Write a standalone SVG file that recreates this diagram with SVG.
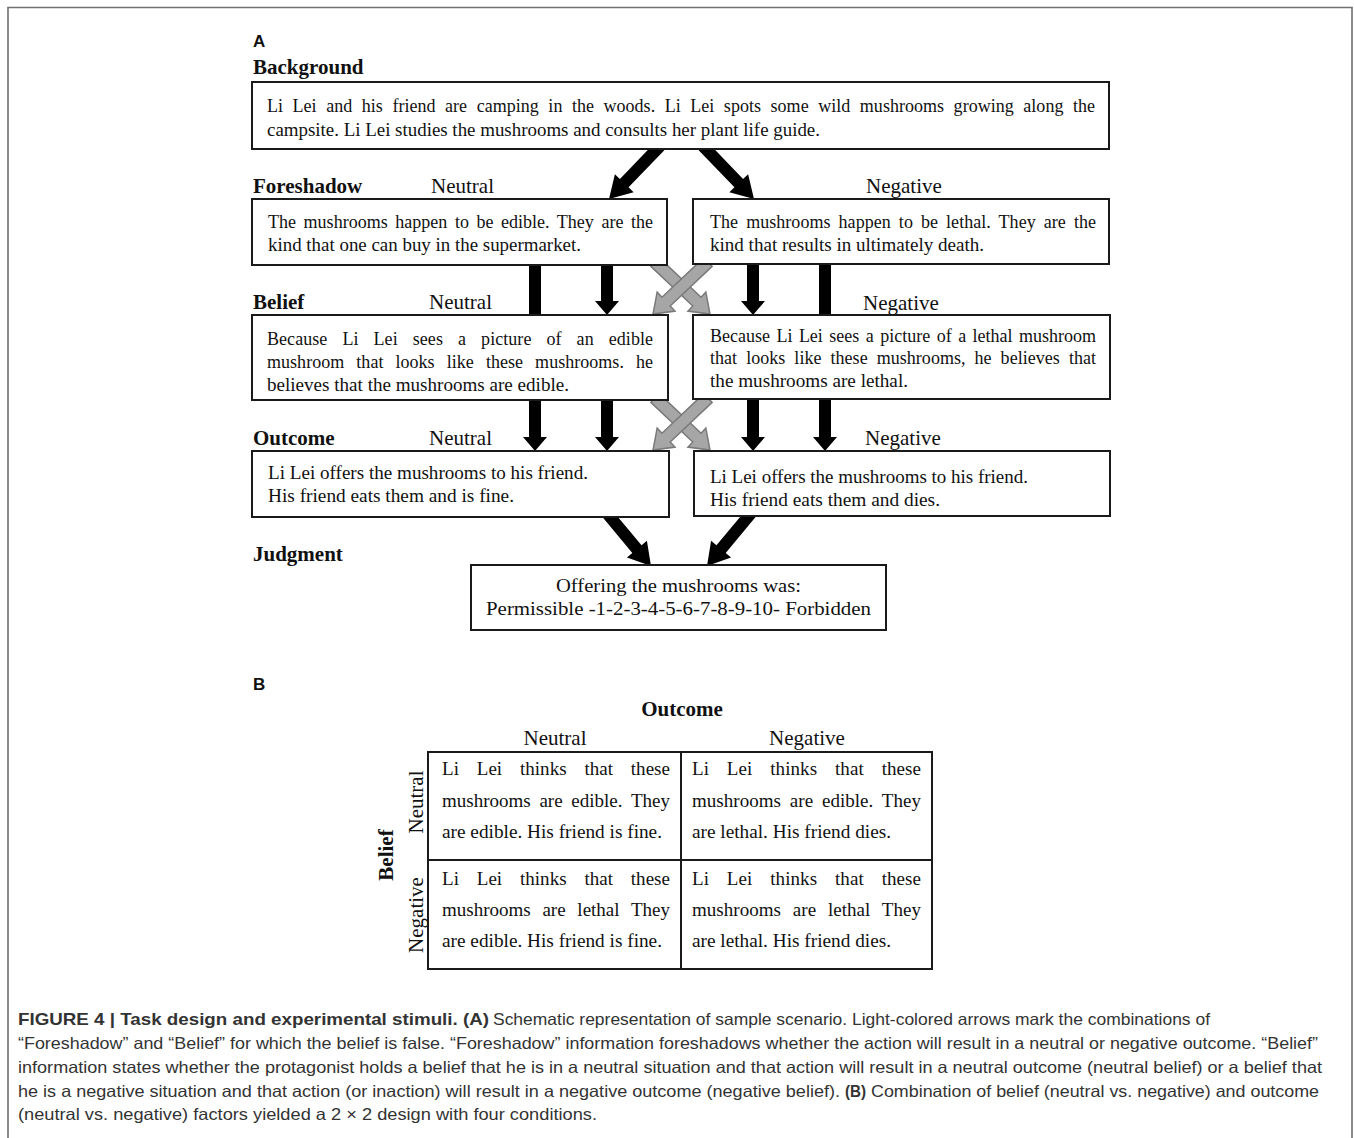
<svg xmlns="http://www.w3.org/2000/svg" width="1354" height="1138" viewBox="0 0 1354 1138">
<style>
.box{fill:#fff;stroke:#1a1a1a;stroke-width:2}
.t{font-family:"Liberation Serif","Times New Roman",serif;font-size:18px;fill:#111}
.h{font-family:"Liberation Serif","Times New Roman",serif;font-size:21px;font-weight:bold;fill:#111}
.lab{font-family:"Liberation Serif","Times New Roman",serif;font-size:21px;fill:#111}
.tb{font-family:"Liberation Serif","Times New Roman",serif;font-size:19px;fill:#111}
.pl{font-family:"Liberation Sans",Arial,sans-serif;font-size:17px;font-weight:bold;fill:#111}
.arr{fill:#000}
.garr{fill:#a6a6a6;stroke:#7a7a7a;stroke-width:1.5}
.cap{font-family:"Liberation Sans",Arial,sans-serif;font-size:16.5px;fill:#333}
.b{font-weight:bold}
</style>
<rect width="1354" height="1138" fill="#fff"/>
<path d="M8,1138 V7.5 H1352 V1138" fill="none" stroke="#707070" stroke-width="1.6"/>

<g id="panel-labels">
<text class="pl" x="253" y="47">A</text>
<text class="pl" x="253" y="690">B</text>
<text class="h" x="253" y="74">Background</text>
<text class="h" x="253" y="193">Foreshadow</text>
<text class="lab" x="431" y="193">Neutral</text>
<text class="lab" x="866" y="193">Negative</text>
<text class="h" x="253" y="309">Belief</text>
<text class="lab" x="429" y="309">Neutral</text>
<text class="lab" x="863" y="310">Negative</text>
<text class="h" x="253" y="445">Outcome</text>
<text class="lab" x="429" y="445">Neutral</text>
<text class="lab" x="865" y="445">Negative</text>
<text class="h" x="253" y="561">Judgment</text>
</g>

<g id="connectors">
<polygon class="arr" points="655.68,141.84 619.93,178.99 614.88,174.14 609,199 633.62,192.16 628.57,187.31 664.32,150.16"/>
<polygon class="arr" points="707.32,141.84 743.07,178.99 748.12,174.14 754,199 729.38,192.16 734.43,187.31 698.68,150.16"/>
<rect class="arr" x="529" y="262" width="12" height="54"/>
<polygon class="arr" points="601,262 601,301 595,301 607,315 619,301 613,301 613,262"/>
<polygon class="arr" points="747,262 747,301 741,301 753,315 765,301 759,301 759,262"/>
<rect class="arr" x="819" y="262" width="12" height="54"/>
<polygon class="garr" points="650.88,266.36 692.8,306 687.99,311.09 710,314 705.85,292.19 701.04,297.28 659.12,257.64"/>
<polygon class="garr" points="712.12,266.36 670.2,306 675.01,311.09 653,314 657.15,292.19 661.96,297.28 703.88,257.64"/>
<polygon class="arr" points="529,397 529,437 523,437 535,451 547,437 541,437 541,397"/>
<polygon class="arr" points="601,397 601,437 595,437 607,451 619,437 613,437 613,397"/>
<polygon class="arr" points="747,397 747,437 741,437 753,451 765,437 759,437 759,397"/>
<polygon class="arr" points="819,397 819,437 813,437 825,451 837,437 831,437 831,397"/>
<polygon class="garr" points="650.88,402.36 692.8,442 687.99,447.09 710,450 705.85,428.19 701.04,433.28 659.12,393.64"/>
<polygon class="garr" points="712.12,402.36 670.2,442 675.01,447.09 653,450 657.15,428.19 661.96,433.28 703.88,393.64"/>
<polygon class="arr" points="601.39,515.84 632.31,552.94 626.94,557.42 651,566 646.9,540.78 641.53,545.26 610.61,508.16"/>
<polygon class="arr" points="756.61,515.84 725.69,552.94 731.06,557.42 707,566 711.1,540.78 716.47,545.26 747.39,508.16"/>
</g>

<g id="background">
<rect class="box" x="252" y="82" width="857" height="67"/>
<text class="t" x="267" y="112" word-spacing="5" textLength="828" lengthAdjust="spacing">Li Lei and his friend are camping in the woods. Li Lei spots some wild mushrooms growing along the</text>
<text class="t" x="267" y="136" textLength="553" lengthAdjust="spacingAndGlyphs">campsite. Li Lei studies the mushrooms and consults her plant life guide.</text>
</g>

<g id="foreshadow-neutral">
<rect class="box" x="252" y="199" width="415" height="66"/>
<text class="t" x="268" y="228" word-spacing="3" textLength="385" lengthAdjust="spacing">The mushrooms happen to be edible. They are the</text>
<text class="t" x="268" y="251" textLength="313" lengthAdjust="spacingAndGlyphs">kind that one can buy in the supermarket.</text>
</g>

<g id="foreshadow-negative">
<rect class="box" x="693" y="199" width="416" height="65"/>
<text class="t" x="710" y="228" word-spacing="3.5" textLength="386" lengthAdjust="spacing">The mushrooms happen to be lethal. They are the</text>
<text class="t" x="710" y="251" textLength="274" lengthAdjust="spacingAndGlyphs">kind that results in ultimately death.</text>
</g>

<g id="belief-neutral">
<rect class="box" x="252" y="315" width="416" height="85"/>
<text class="t" x="267" y="345" word-spacing="10.5" textLength="386" lengthAdjust="spacing">Because Li Lei sees a picture of an edible</text>
<text class="t" x="267" y="368" word-spacing="7.5" textLength="386" lengthAdjust="spacing">mushroom that looks like these mushrooms. he</text>
<text class="t" x="267" y="391" textLength="302" lengthAdjust="spacingAndGlyphs">believes that the mushrooms are edible.</text>
</g>

<g id="belief-negative">
<rect class="box" x="693" y="315" width="417" height="84"/>
<text class="t" x="710" y="342" word-spacing="2" textLength="386" lengthAdjust="spacing">Because Li Lei sees a picture of a lethal mushroom</text>
<text class="t" x="710" y="364" word-spacing="4.5" textLength="386" lengthAdjust="spacing">that looks like these mushrooms, he believes that</text>
<text class="t" x="710" y="387" textLength="198" lengthAdjust="spacingAndGlyphs">the mushrooms are lethal.</text>
</g>

<g id="outcome-neutral">
<rect class="box" x="252" y="451" width="417" height="66"/>
<text class="t" x="268" y="479" textLength="320" lengthAdjust="spacingAndGlyphs">Li Lei offers the mushrooms to his friend.</text>
<text class="t" x="268" y="502" textLength="246" lengthAdjust="spacingAndGlyphs">His friend eats them and is fine.</text>
</g>

<g id="outcome-negative">
<rect class="box" x="694" y="451" width="416" height="65"/>
<text class="t" x="710" y="483" textLength="318" lengthAdjust="spacingAndGlyphs">Li Lei offers the mushrooms to his friend.</text>
<text class="t" x="710" y="506" textLength="230" lengthAdjust="spacingAndGlyphs">His friend eats them and dies.</text>
</g>

<g id="judgment">
<rect class="box" x="471" y="565" width="415" height="65"/>
<text class="t" x="556" y="592" textLength="245" lengthAdjust="spacingAndGlyphs">Offering the mushrooms was:</text>
<text class="t" x="486" y="615" textLength="385" lengthAdjust="spacingAndGlyphs">Permissible -1-2-3-4-5-6-7-8-9-10- Forbidden</text>
</g>

<g id="design-table">
<text class="h" x="682" y="716" text-anchor="middle">Outcome</text>
<text class="lab" x="555" y="745" text-anchor="middle">Neutral</text>
<text class="lab" x="807" y="745" text-anchor="middle">Negative</text>
<text class="h" transform="translate(393,855) rotate(-90)" text-anchor="middle">Belief</text>
<text class="lab" transform="translate(423,802) rotate(-90)" text-anchor="middle">Neutral</text>
<text class="lab" transform="translate(423,915) rotate(-90)" text-anchor="middle">Negative</text>
<rect x="428" y="752" width="504" height="217" fill="#fff" stroke="#1a1a1a" stroke-width="2"/>
<path d="M681,752 V969 M428,860 H932" stroke="#1a1a1a" stroke-width="2" fill="none"/>
</g>

<g id="cell-neutral-neutral">
<text class="tb" x="442" y="775" word-spacing="13" textLength="228" lengthAdjust="spacing">Li Lei thinks that these</text>
<text class="tb" x="442" y="807" word-spacing="4" textLength="228" lengthAdjust="spacing">mushrooms are edible. They</text>
<text class="tb" x="442" y="838" textLength="220" lengthAdjust="spacingAndGlyphs">are edible. His friend is fine.</text>
</g>
<g id="cell-neutral-negative">
<text class="tb" x="692" y="775" word-spacing="13" textLength="229" lengthAdjust="spacing">Li Lei thinks that these</text>
<text class="tb" x="692" y="807" word-spacing="4" textLength="229" lengthAdjust="spacing">mushrooms are edible. They</text>
<text class="tb" x="692" y="838" textLength="199" lengthAdjust="spacingAndGlyphs">are lethal. His friend dies.</text>
</g>
<g id="cell-negative-neutral">
<text class="tb" x="442" y="885" word-spacing="13" textLength="228" lengthAdjust="spacing">Li Lei thinks that these</text>
<text class="tb" x="442" y="916" word-spacing="7" textLength="228" lengthAdjust="spacing">mushrooms are lethal They</text>
<text class="tb" x="442" y="947" textLength="220" lengthAdjust="spacingAndGlyphs">are edible. His friend is fine.</text>
</g>
<g id="cell-negative-negative">
<text class="tb" x="692" y="885" word-spacing="13" textLength="229" lengthAdjust="spacing">Li Lei thinks that these</text>
<text class="tb" x="692" y="916" word-spacing="7" textLength="229" lengthAdjust="spacing">mushrooms are lethal They</text>
<text class="tb" x="692" y="947" textLength="199" lengthAdjust="spacingAndGlyphs">are lethal. His friend dies.</text>
</g>

<g id="caption">
<text class="cap b" x="18" y="1025" textLength="471" lengthAdjust="spacingAndGlyphs">FIGURE 4 | Task design and experimental stimuli. (A)</text>
<text class="cap" x="493" y="1025" textLength="717" lengthAdjust="spacingAndGlyphs">Schematic representation of sample scenario. Light-colored arrows mark the combinations of</text>
<text class="cap" x="18" y="1049" textLength="1300" lengthAdjust="spacingAndGlyphs">“Foreshadow” and “Belief” for which the belief is false. “Foreshadow” information foreshadows whether the action will result in a neutral or negative outcome. “Belief”</text>
<text class="cap" x="18" y="1073" textLength="1304" lengthAdjust="spacingAndGlyphs">information states whether the protagonist holds a belief that he is in a neutral situation and that action will result in a neutral outcome (neutral belief) or a belief that</text>
<text class="cap" x="18" y="1097" textLength="822" lengthAdjust="spacingAndGlyphs">he is a negative situation and that action (or inaction) will result in a negative outcome (negative belief).</text>
<text class="cap b" x="845" y="1097" textLength="21" lengthAdjust="spacingAndGlyphs">(B)</text>
<text class="cap" x="871" y="1097" textLength="448" lengthAdjust="spacingAndGlyphs">Combination of belief (neutral vs. negative) and outcome</text>
<text class="cap" x="18" y="1120" textLength="579" lengthAdjust="spacingAndGlyphs">(neutral vs. negative) factors yielded a 2 × 2 design with four conditions.</text>
</g>
</svg>
